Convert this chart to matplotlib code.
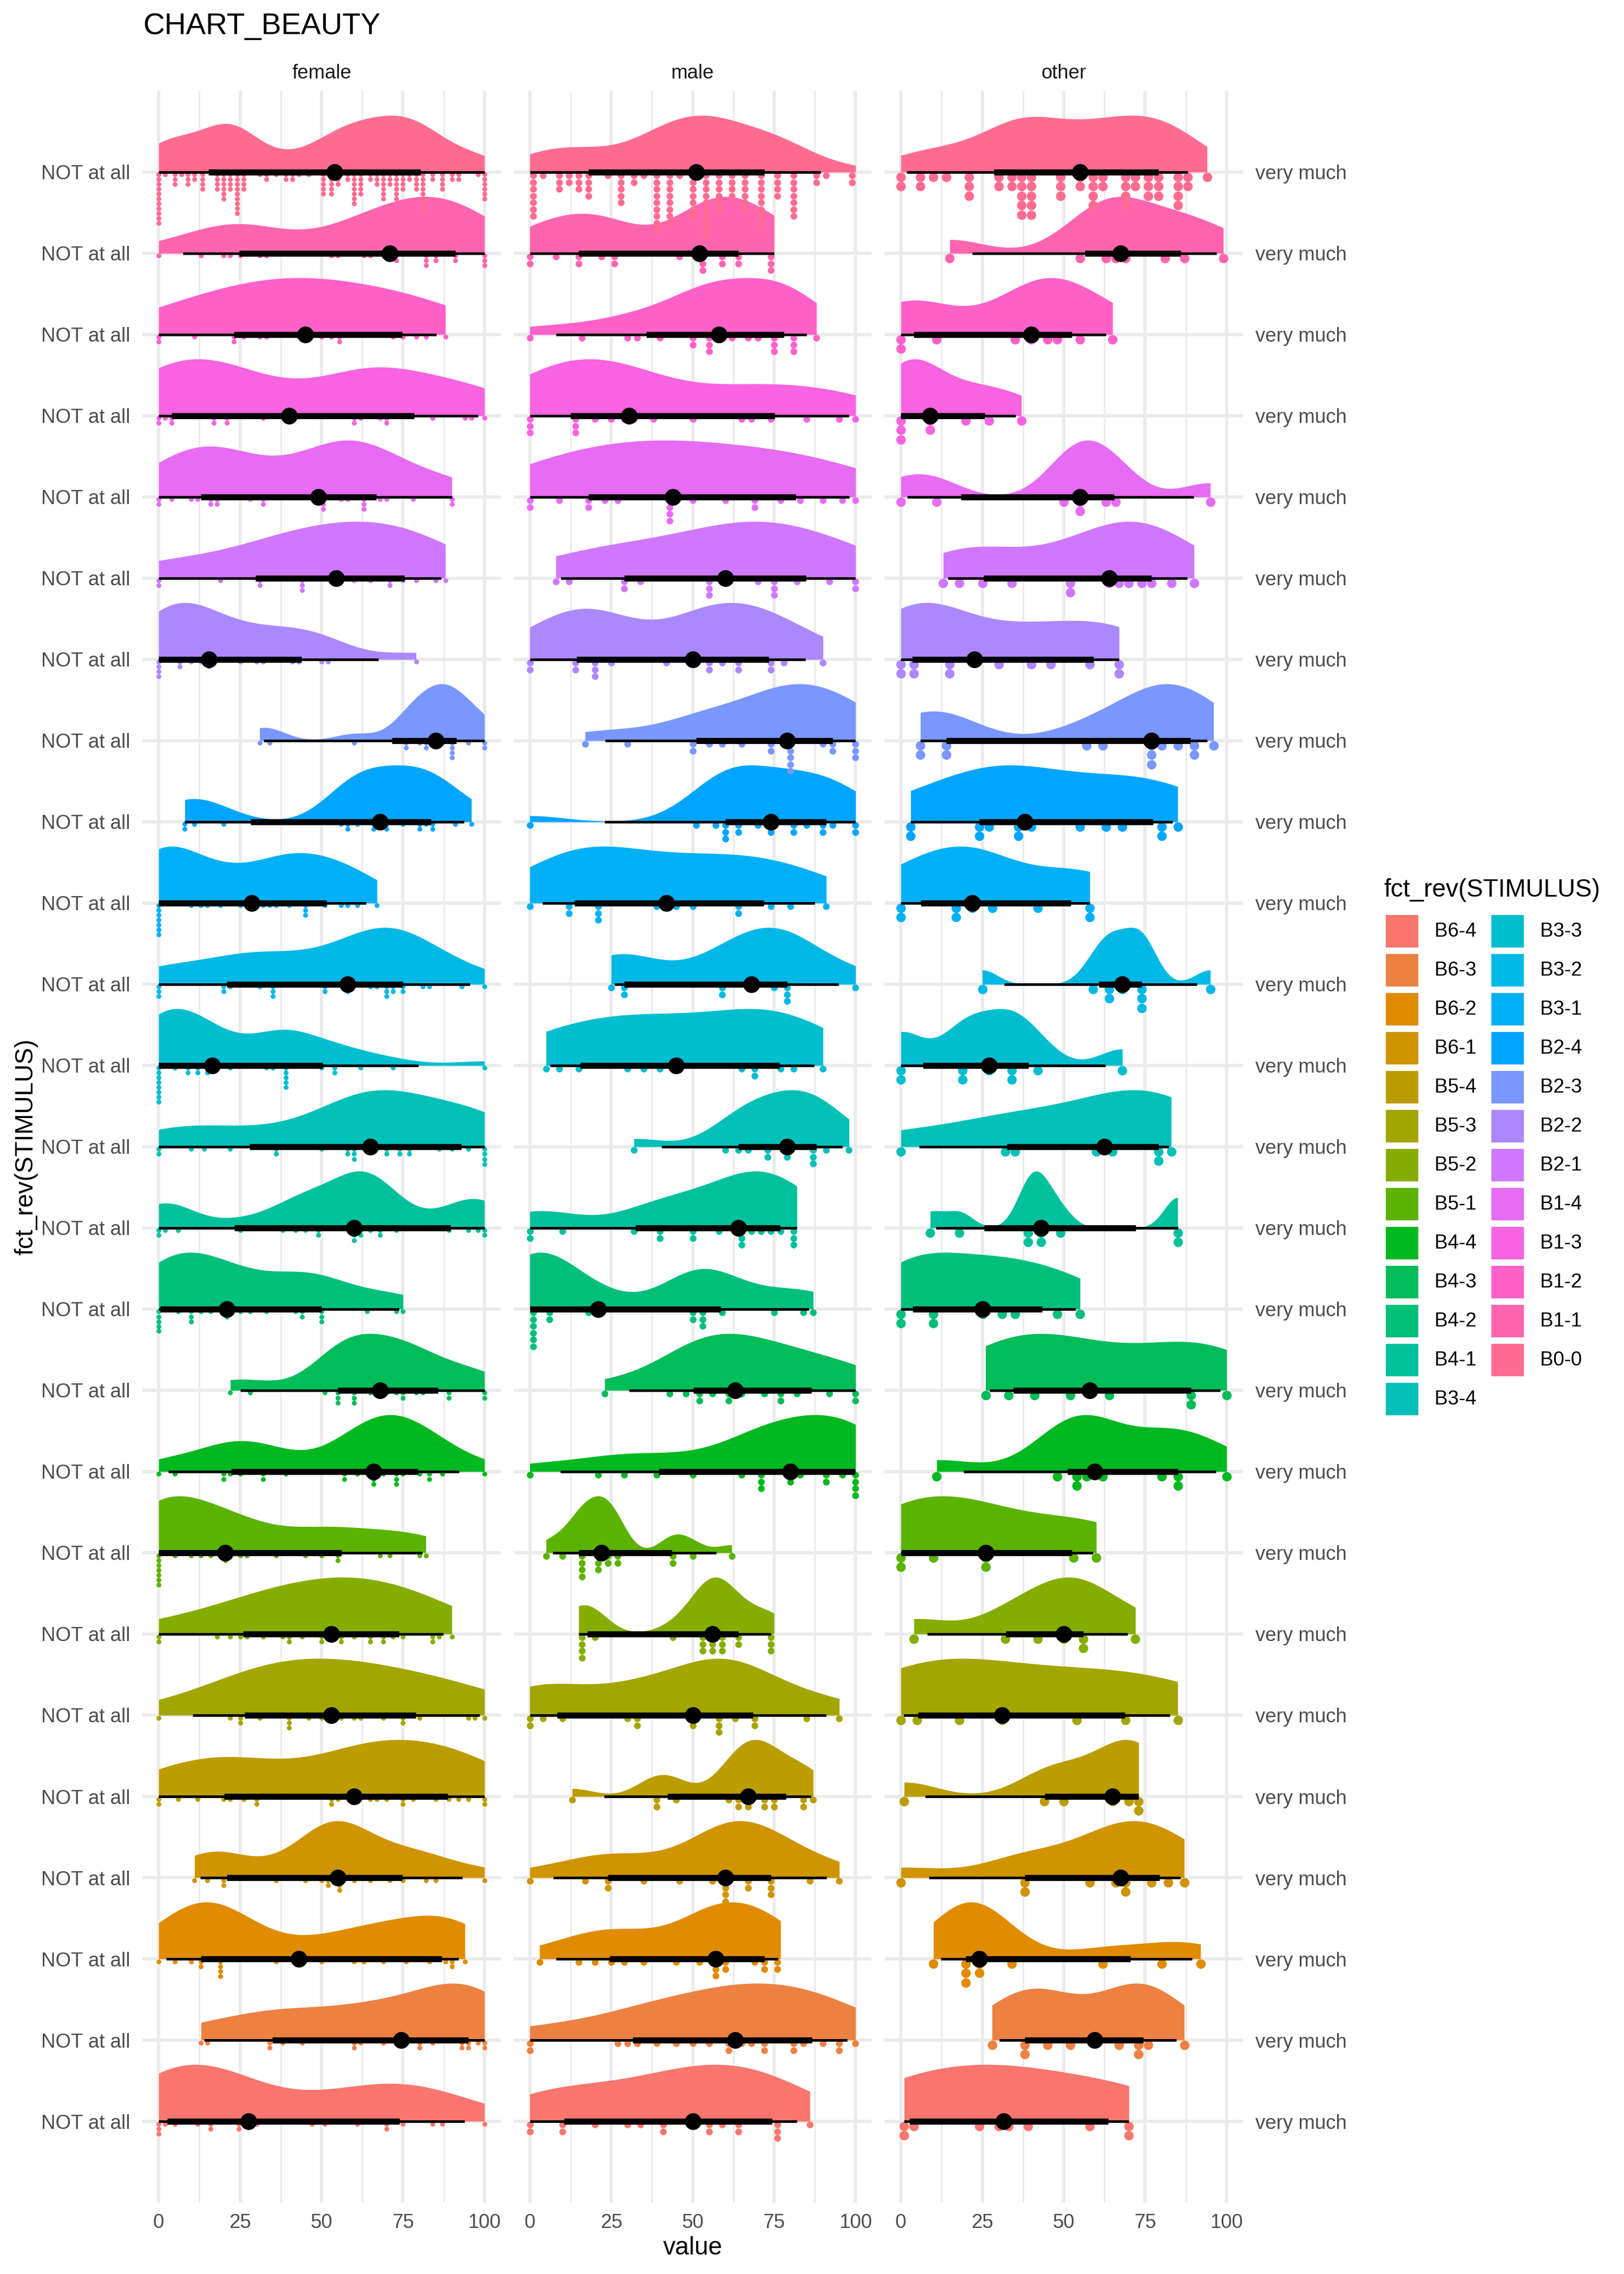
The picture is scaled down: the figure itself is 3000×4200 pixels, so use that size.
import numpy as np
import matplotlib
matplotlib.use("Agg")
from matplotlib import pyplot as plt
from matplotlib.patches import Rectangle

plt.rcParams['font.family'] = ['Liberation Sans', 'DejaVu Sans']

# stimulus levels in fct_rev order (first = bottom row, also first in legend)
STIMULI = ["B6-4", "B6-3", "B6-2", "B6-1", "B5-4", "B5-3", "B5-2", "B5-1",
           "B4-4", "B4-3", "B4-2", "B4-1", "B3-4", "B3-3", "B3-2", "B3-1",
           "B2-4", "B2-3", "B2-2", "B2-1", "B1-4", "B1-3", "B1-2", "B1-1", "B0-0"]
FACETS = ["female", "male", "other"]
X_TICKS = [0, 25, 50, 75, 100]
LEFT_LABEL = "NOT at all"
RIGHT_LABEL = "very much"

# ratings per stimulus
female = {
    "B0-0": [0, 0, 0, 0, 0, 0, 0, 0, 0, 0, 0, 2, 5, 5, 5, 7, 9, 9, 9, 11, 11, 13, 13, 13, 14,
             18, 18, 18, 18, 20, 20, 20, 20, 20, 20, 22, 22, 22, 22, 24, 24, 24, 24, 24, 24, 24, 24, 24,
             26, 26, 26, 26, 31, 33, 33, 36, 39, 39, 41, 41, 43, 46, 50, 50, 50, 50, 51,
             53, 53, 53, 53, 53, 55, 55, 55, 58, 58, 60, 60, 60, 60, 60, 60, 60, 62, 62, 62, 62, 62,
             65, 65, 67, 67, 67, 69, 69, 69, 69, 69, 69, 71, 71, 71, 73, 73, 73, 73, 73, 73,
             75, 75, 75, 75, 77, 77, 79, 79, 79, 79, 81, 81, 81, 81, 81, 81, 81, 81, 84, 84,
             87, 87, 87, 87, 90, 90, 92, 92, 98, 100, 100, 100, 100, 100, 100],
    "B1-1": [0, 13, 20, 22, 25, 31, 33, 53, 55, 63, 65, 69, 73, 73, 82, 82, 82, 85, 85, 91, 91,
             100, 100, 100],
    "B1-2": [0, 0, 11, 23, 23, 26, 31, 33, 43, 45, 50, 53, 55, 56, 72, 75, 79, 82, 88],
    "B1-3": [0, 0, 2, 4, 4, 17, 17, 21, 21, 32, 40, 60, 60, 62, 68, 70, 70, 84, 94, 96, 100],
    "B1-4": [0, 0, 4, 10, 12, 16, 16, 18, 18, 28, 32, 32, 48, 50, 51, 51, 56, 58, 63, 63, 63,
             68, 70, 78, 90, 90],
    "B2-1": [0, 0, 19, 31, 31, 44, 44, 44, 53, 56, 60, 65, 71, 71, 75, 79, 85, 88],
    "B2-2": [0, 0, 0, 0, 6, 7, 10, 13, 15, 16, 25, 30, 32, 41, 43, 50, 52, 79],
    "B2-3": [31, 34, 60, 76, 76, 80, 82, 82, 85, 87, 90, 90, 90, 90, 95, 100, 100],
    "B2-4": [8, 8, 11, 20, 56, 58, 58, 61, 66, 66, 70, 70, 75, 80, 80, 82, 84, 84, 91, 96],
    "B3-1": [0, 0, 0, 0, 0, 0, 0, 10, 13, 15, 19, 25, 32, 34, 36, 40, 45, 45, 45, 51, 56, 58, 61, 67],
    "B3-2": [0, 0, 0, 20, 20, 22, 31, 35, 35, 35, 51, 51, 58, 58, 65, 67, 70, 70, 70, 72, 72,
             75, 75, 81, 83, 93, 100],
    "B3-3": [0, 0, 0, 0, 0, 0, 0, 0, 5, 9, 9, 12, 12, 15, 15, 18, 22, 33, 35, 39, 39, 39, 39, 39,
             50, 54, 54, 62, 72, 100],
    "B3-4": [0, 0, 10, 14, 22, 36, 36, 50, 58, 58, 60, 60, 60, 65, 70, 70, 74, 74, 77, 77, 86,
             90, 95, 100, 100, 100, 100],
    "B4-1": [0, 0, 2, 6, 25, 38, 42, 45, 49, 49, 60, 60, 60, 62, 62, 65, 68, 68, 73, 89, 95, 98,
             100, 100],
    "B4-2": [0, 0, 0, 0, 0, 6, 10, 10, 10, 13, 16, 21, 21, 25, 28, 33, 42, 44, 44, 50, 50, 50,
             64, 73, 75],
    "B4-3": [22, 28, 51, 55, 55, 55, 60, 60, 60, 65, 68, 70, 73, 75, 75, 79, 81, 89, 89, 100, 100],
    "B4-4": [0, 5, 20, 20, 22, 25, 32, 32, 39, 57, 57, 61, 66, 66, 66, 69, 73, 73, 73, 75, 80,
             83, 83, 87, 100],
    "B5-1": [0, 0, 0, 0, 0, 0, 0, 5, 10, 13, 16, 20, 21, 25, 27, 36, 45, 50, 55, 55, 68, 71, 80, 82],
    "B5-2": [0, 0, 18, 22, 25, 27, 32, 38, 40, 40, 44, 50, 50, 53, 56, 56, 60, 65, 65, 69, 69,
             72, 75, 84, 84, 86, 90],
    "B5-3": [0, 22, 25, 25, 31, 40, 40, 40, 46, 50, 56, 60, 62, 69, 75, 75, 80, 95, 97, 100],
    "B5-4": [0, 0, 6, 12, 20, 22, 26, 30, 30, 53, 53, 55, 60, 65, 67, 70, 75, 75, 78, 85, 89,
             92, 95, 100, 100],
    "B6-1": [11, 15, 20, 20, 36, 45, 50, 52, 52, 55, 55, 56, 60, 65, 71, 75, 82, 85, 100],
    "B6-2": [0, 5, 10, 13, 13, 19, 19, 19, 19, 36, 50, 60, 63, 69, 76, 83, 88, 90, 90, 94],
    "B6-3": [13, 15, 34, 34, 38, 44, 60, 60, 62, 69, 80, 80, 84, 93, 93, 95, 95, 98, 100, 100],
    "B6-4": [0, 0, 0, 2, 5, 12, 16, 16, 24, 25, 30, 47, 51, 61, 70, 70, 75, 84, 87, 100],
}

male = {
    "B0-0": [0, 0, 0, 0, 0, 0, 2, 4, 8, 10, 10, 12, 12, 15, 15, 15, 18, 18, 18, 18, 24, 27,
             29, 29, 29, 29, 32, 32, 35, 38, 40, 40, 40, 40, 40, 40, 40, 40, 42, 42,
             44, 44, 44, 44, 44, 44, 46, 49, 51, 51, 51, 51, 51, 51, 53, 53, 53, 53, 53,
             55, 55, 55, 55, 55, 57, 57, 57, 59, 59, 59, 61, 61, 61, 63, 65, 65, 65, 65, 65, 67,
             70, 70, 70, 70, 72, 72, 72, 72, 75, 75, 77, 77, 80, 80, 80, 80, 80, 80, 82,
             88, 88, 91, 98, 100],
    "B1-1": [0, 0, 8, 15, 15, 22, 25, 27, 46, 52, 54, 54, 59, 59, 64, 64, 73, 75, 75],
    "B1-2": [0, 16, 30, 33, 40, 50, 50, 55, 55, 55, 58, 62, 67, 70, 75, 75, 75, 80, 80, 82, 88],
    "B1-3": [0, 0, 0, 14, 14, 14, 20, 25, 29, 32, 38, 50, 65, 68, 74, 85, 95, 100],
    "B1-4": [0, 0, 9, 18, 18, 23, 27, 42, 42, 44, 44, 50, 60, 69, 69, 77, 83, 90, 96, 100],
    "B2-1": [8, 12, 29, 29, 34, 55, 55, 55, 60, 70, 75, 75, 75, 82, 92, 100, 100],
    "B2-2": [0, 0, 14, 14, 19, 19, 21, 25, 42, 50, 55, 55, 59, 64, 64, 74, 74, 78, 90],
    "B2-3": [17, 30, 50, 50, 55, 59, 65, 74, 74, 79, 79, 81, 81, 81, 90, 93, 93, 100, 100, 100],
    "B2-4": [0, 51, 57, 60, 60, 60, 64, 64, 70, 74, 74, 80, 82, 85, 89, 91, 93, 100, 100],
    "B3-1": [0, 12, 12, 20, 20, 22, 39, 45, 50, 64, 64, 74, 80, 91],
    "B3-2": [25, 29, 29, 58, 60, 68, 75, 79, 79, 79, 100],
    "B3-3": [5, 9, 15, 30, 35, 40, 45, 65, 69, 69, 77, 81, 90],
    "B3-4": [32, 60, 64, 67, 72, 74, 79, 79, 86, 86, 88, 91, 98],
    "B4-1": [0, 0, 10, 32, 39, 41, 50, 50, 58, 64, 64, 66, 68, 71, 74, 77, 80, 82, 82],
    "B4-2": [0, 0, 0, 0, 0, 2, 6, 6, 18, 21, 50, 50, 53, 53, 53, 59, 75, 84, 87],
    "B4-3": [23, 43, 48, 52, 52, 56, 61, 61, 65, 72, 76, 78, 82, 92, 100, 100],
    "B4-4": [0, 21, 29, 39, 50, 65, 70, 70, 72, 80, 80, 83, 90, 92, 96, 100, 100, 100, 100],
    "B5-1": [5, 10, 15, 15, 17, 17, 20, 22, 22, 24, 24, 27, 27, 43, 45, 50, 62],
    "B5-2": [15, 15, 17, 17, 20, 44, 52, 52, 54, 56, 56, 56, 59, 59, 59, 64, 64, 73, 73, 75],
    "B5-3": [0, 0, 4, 10, 30, 33, 33, 50, 50, 57, 59, 59, 63, 68, 70, 85, 95],
    "B5-4": [13, 39, 39, 45, 61, 64, 64, 67, 67, 72, 72, 75, 75, 83, 85, 87],
    "B6-1": [0, 17, 24, 24, 35, 46, 56, 60, 60, 60, 60, 66, 68, 74, 74, 74, 86, 95],
    "B6-2": [3, 15, 20, 25, 29, 35, 45, 52, 57, 57, 57, 60, 60, 69, 72, 72, 75, 77],
    "B6-3": [0, 0, 27, 30, 33, 39, 45, 50, 55, 61, 61, 65, 68, 71, 73, 80, 82, 84, 90, 95, 95, 100],
    "B6-4": [0, 0, 10, 10, 20, 30, 34, 41, 41, 50, 55, 55, 59, 63, 65, 75, 75, 77, 86],
}

other = {
    "B0-0": [0, 0, 6, 6, 10, 14, 21, 21, 21, 30, 30, 34, 34, 37, 37, 37, 37, 37, 40, 40, 40, 40, 40,
             49, 49, 49, 55, 55, 59, 59, 59, 59, 62, 62, 69, 69, 69, 69, 72, 72, 76, 76, 76,
             79, 79, 79, 85, 85, 85, 85, 88, 88, 94],
    "B1-1": [15, 55, 63, 66, 69, 81, 87, 99],
    "B1-2": [0, 0, 11, 35, 40, 45, 48, 55, 65],
    "B1-3": [0, 0, 0, 9, 9, 20, 27, 37],
    "B1-4": [0, 11, 50, 55, 55, 63, 66, 95],
    "B2-1": [13, 18, 25, 34, 52, 52, 64, 67, 70, 74, 77, 83, 90],
    "B2-2": [0, 0, 4, 4, 15, 15, 30, 40, 46, 58, 67, 67],
    "B2-3": [6, 6, 14, 14, 57, 62, 77, 77, 77, 80, 85, 90, 90, 96],
    "B2-4": [3, 3, 24, 24, 27, 36, 36, 40, 55, 63, 68, 80, 80, 85],
    "B3-1": [0, 0, 17, 17, 22, 28, 42, 58, 58],
    "B3-2": [25, 59, 64, 64, 68, 74, 74, 74, 95],
    "B3-3": [0, 0, 19, 19, 27, 34, 34, 42, 68],
    "B3-4": [0, 32, 35, 60, 65, 79, 79, 83],
    "B4-1": [9, 18, 39, 39, 43, 43, 49, 85, 85],
    "B4-2": [0, 0, 10, 10, 25, 31, 35, 48, 55],
    "B4-3": [26, 33, 41, 52, 64, 89, 89, 100],
    "B4-4": [11, 48, 54, 54, 57, 62, 80, 85, 85, 100],
    "B5-1": [0, 0, 10, 26, 26, 53, 60],
    "B5-2": [4, 32, 42, 50, 56, 56, 72],
    "B5-3": [0, 5, 18, 31, 54, 69, 85],
    "B5-4": [1, 44, 50, 65, 70, 73, 73],
    "B6-1": [0, 38, 38, 58, 66, 69, 69, 77, 82, 87],
    "B6-2": [10, 20, 20, 20, 24, 24, 34, 62, 80, 92],
    "B6-3": [28, 38, 38, 45, 52, 67, 73, 73, 76, 87],
    "B6-4": [1, 1, 4, 24, 30, 33, 39, 58, 70, 70],
}

panel_data = {"female": female, "male": male, "other": other}


def hcl_hex(h, c, l):
    # polar LUV -> sRGB (same as grDevices::hcl)
    hr = np.deg2rad(h)
    u, v = c * np.cos(hr), c * np.sin(hr)
    xn, yn, zn = 95.047, 100.0, 108.883
    un = 4 * xn / (xn + 15 * yn + 3 * zn)
    vn = 9 * yn / (xn + 15 * yn + 3 * zn)
    y = yn * ((l + 16) / 116) ** 3 if l > 8 else yn * l / 903.3
    up = u / (13 * l) + un
    vp = v / (13 * l) + vn
    x = 9 * y * up / (4 * vp)
    z = (9 * y / vp - x - 15 * y) / 3
    x, y, z = x / 100, y / 100, z / 100
    rgb = [3.240479 * x - 1.537150 * y - 0.498535 * z,
           -0.969256 * x + 1.875992 * y + 0.041556 * z,
           0.055648 * x - 0.204043 * y + 1.057311 * z]
    out = []
    for ch in rgb:
        ch = 12.92 * ch if ch <= 0.0031308 else 1.055 * ch ** (1 / 2.4) - 0.055
        out.append(min(max(ch, 0), 1))
    return tuple(out)


n_lev = len(STIMULI)
colors = {s: hcl_hex(15 + 360 / n_lev * i, 100, 65) for i, s in enumerate(STIMULI)}


def bw_sj_dpi(v):
    # Sheather-Jones direct plug-in bandwidth (like R's bw.SJ(method = "dpi"))
    n = len(v)
    diff = (v[:, None] - v[None, :]).ravel()
    q1, q3 = np.percentile(v, [25, 75])
    scale = min(v.std(ddof=1), (q3 - q1) / 1.349)
    if scale <= 0:
        scale = v.std(ddof=1)
    nrd0 = 0.9 * scale * n ** -0.2
    c0 = np.sqrt(2 * np.pi) * n * (n - 1)

    def phi4(h):
        u = diff / h
        return ((u ** 4 - 6 * u ** 2 + 3) * np.exp(-u ** 2 / 2)).sum() / (c0 * h ** 5)

    def phi6(h):
        u = diff / h
        return ((u ** 6 - 15 * u ** 4 + 45 * u ** 2 - 15) * np.exp(-u ** 2 / 2)).sum() / (c0 * h ** 7)

    td = -phi6(1.23 * scale * n ** (-1 / 9))
    if not np.isfinite(td) or td <= 0:
        return nrd0
    s4 = phi4((2.394 / (n * td)) ** (1 / 7))
    if s4 <= 0:
        return nrd0
    return (1 / (2 * np.sqrt(np.pi) * n) / s4) ** 0.2


def kde_trimmed(vals, grid):
    # gaussian kde evaluated only over the data range
    v = np.asarray(vals, float)
    bw = bw_sj_dpi(v)
    return np.exp(-0.5 * ((grid[:, None] - v[None, :]) / bw) ** 2).sum(1)


def dot_bins(vals, bw):
    v = np.sort(np.asarray(vals, float))
    centers, counts = [], []
    i = 0
    while i < len(v):
        j = i
        while j + 1 < len(v) and v[j + 1] < v[i] + bw:
            j += 1
        centers.append((v[i] + v[j]) / 2)
        counts.append(j - i + 1)
        i = j + 1
    return centers, counts


W, H = 3000, 4200
fig = plt.figure(figsize=(10, 14), dpi=300)


def fx(px):
    return px / W


def fy(py):
    return 1 - py / H


PANEL_TOP, PANEL_BOT = 168, 4068
PANEL_W = 662
SLAB_H = 0.7
dot_px = {"female": 9.0, "male": 12.5, "other": 17.5}
grey_grid = "#EBEBEB"

for j, facet in enumerate(FACETS):
    left = 263 + j * 685.5
    ax = fig.add_axes([fx(left), fy(PANEL_BOT), PANEL_W / W, (PANEL_BOT - PANEL_TOP) / H])
    ax.set_xlim(-5, 105)
    ax.set_ylim(0, n_lev + 1)
    px_per_unit = PANEL_W / 110.0
    d = dot_px[facet]
    bw_x = d / px_per_unit
    d_y = d / ((PANEL_BOT - PANEL_TOP) / (n_lev + 1))
    ms = (d * 72 / 300) ** 2
    data = panel_data[facet]

    for i, stim in enumerate(STIMULI):
        y0 = i + 1
        vals = np.asarray(data[stim], float)
        col = colors[stim]
        grid = np.linspace(vals.min(), vals.max(), 400)
        dens = kde_trimmed(vals, grid)
        ax.fill_between(grid, y0, y0 + dens / dens.max() * SLAB_H,
                        color=col, lw=0, zorder=2)

        cx, cn = dot_bins(vals, bw_x)
        xs, ys = [], []
        for c, k in zip(cx, cn):
            for m in range(k):
                xs.append(c)
                ys.append(y0 - (m + 0.5) * d_y)
        ax.scatter(xs, ys, s=ms, color=col, lw=0, zorder=3)

        q = np.percentile(vals, [2.5, 17, 50, 83, 97.5])
        ax.plot([q[0], q[4]], [y0, y0], color="black", lw=1.15,
                solid_capstyle="butt", zorder=4)
        ax.plot([q[1], q[3]], [y0, y0], color="black", lw=2.7,
                solid_capstyle="butt", zorder=4)
        ax.scatter([q[2]], [y0], s=55, color="black", lw=0, zorder=5)

    ax.set_xticks(X_TICKS)
    ax.set_xticks([12.5, 37.5, 62.5, 87.5], minor=True)
    ax.set_yticks(range(1, n_lev + 1))
    ax.grid(which="major", color=grey_grid, lw=1.42, zorder=0)
    ax.grid(which="minor", axis="x", color=grey_grid, lw=0.71, zorder=0)
    ax.set_axisbelow(True)
    for sp in ax.spines.values():
        sp.set_visible(False)
    ax.tick_params(which="both", length=0)
    ax.tick_params(axis="x", pad=4.8, labelsize=8.8, labelcolor="#4D4D4D")
    ax.tick_params(axis="y", pad=5.5, labelsize=8.8, labelcolor="#4D4D4D")
    if j == 0:
        ax.set_yticklabels([LEFT_LABEL] * n_lev)
    elif j == 2:
        ax.tick_params(axis="y", labelleft=False, labelright=True)
        ax.set_yticklabels([RIGHT_LABEL] * n_lev)
    else:
        ax.set_yticklabels([])

    fig.text(fx(left + PANEL_W / 2), fy(145), facet, ha="center", va="baseline",
             fontsize=8.8, color="#1A1A1A")

fig.text(fx(264), fy(63), "CHART_BEAUTY", fontsize=13.2, va="baseline", ha="left")
fig.text(fx(1280), fy(4152), "value", fontsize=11, ha="center", va="center")
fig.text(fx(48), fy((PANEL_TOP + PANEL_BOT) / 2), "fct_rev(STIMULUS)", fontsize=11,
         rotation=90, ha="center", va="center")

# legend, two columns filled top to bottom
fig.text(fx(2556), fy(1656), "fct_rev(STIMULUS)", fontsize=11, va="baseline", ha="left")
for k, stim in enumerate(STIMULI):
    col_i, row_i = divmod(k, 13)
    kx = 2560 + col_i * 195
    ky = 1690 + row_i * 72
    fig.patches.append(Rectangle((fx(kx), fy(ky + 60)), 60 / W, 60 / H,
                                 transform=fig.transFigure, color=colors[stim], lw=0))
    fig.text(fx(kx + 90), fy(ky + 30), stim, fontsize=8.8, va="center", ha="left")

fig.savefig("out.png", dpi=300)
